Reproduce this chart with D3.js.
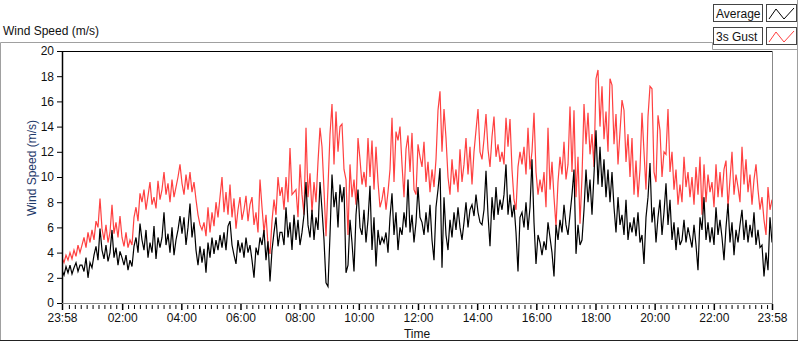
<!DOCTYPE html>
<html><head><meta charset="utf-8">
<script src="https://cdn.jsdelivr.net/npm/d3@7/dist/d3.min.js"></script>
<style>
html,body{margin:0;padding:0;background:#fff;}
svg{display:block;font-family:"Liberation Sans",Arial,sans-serif;}
</style></head><body>
<svg id="chart" width="800" height="342"></svg>
<script>
// 3s Gust (m/s), sampled roughly every 4 minutes from 23:58 to 23:58
const gust = [
3.6,3.2,3.8,3.4,4.0,3.5,4.2,3.7,4.6,4.0,
4.6,5.2,4.4,5.6,4.8,5.8,5.0,6.5,6.0,8.3,
5.9,5.0,6.2,4.8,5.6,7.8,5.5,6.4,5.2,6.9,
5.2,4.5,5.6,4.4,5.0,4.6,6.8,7.6,6.5,8.7,
8.0,9.0,7.4,8.5,9.6,7.8,8.4,7.5,9.7,8.2,
9.0,10.4,8.6,9.5,8.0,9.8,8.4,9.2,10.0,11.0,
9.5,8.6,10.2,9.0,10.4,8.8,9.6,8.2,7.0,6.2,
5.8,6.4,5.3,7.6,5.6,7.2,6.1,8.0,6.8,8.4,
10.0,7.2,8.8,7.0,9.4,6.8,8.3,5.9,7.4,8.4,
6.6,7.4,8.5,6.5,7.8,8.4,6.2,7.2,5.6,9.8,
7.6,5.6,7.0,4.6,3.9,6.5,8.2,7.0,10.0,8.5,
9.2,7.4,10.0,8.0,12.3,8.6,8.8,9.0,6.8,11.0,
8.6,7.0,13.9,8.4,10.3,7.2,9.6,8.0,11.2,13.9,
12.4,9.0,5.3,9.2,13.4,15.8,11.0,15.2,12.0,14.0,
14.2,10.6,9.8,5.4,11.0,8.4,9.8,7.8,13.1,11.4,
9.4,10.4,9.2,13.1,10.0,12.9,9.0,12.4,9.6,7.6,
8.2,9.2,7.4,8.8,10.6,14.7,9.6,13.6,12.9,14.0,
11.0,8.4,12.2,13.3,10.4,13.5,9.0,8.6,12.6,11.6,
10.8,12.8,9.6,11.2,8.8,10.6,9.2,11.4,15.3,16.8,
12.0,15.4,13.1,10.0,8.6,11.4,9.4,10.6,8.8,12.2,
9.6,11.0,13.1,10.2,12.4,9.4,12.0,13.7,15.4,12.0,
11.4,13.0,15.0,12.2,10.8,13.2,14.8,11.6,12.6,11.2,
12.0,11.0,14.7,12.4,14.6,10.6,8.2,7.4,10.8,12.0,
11.0,12.4,10.2,13.9,10.6,12.0,15.1,10.4,8.6,9.8,
8.8,10.4,7.6,13.9,9.0,11.2,8.4,6.1,9.6,11.6,
10.2,12.8,9.8,11.0,15.6,10.4,15.3,8.4,11.6,6.3,
10.0,15.8,12.6,15.1,11.8,13.4,10.8,17.8,18.5,14.0,
17.2,13.0,15.2,12.0,17.8,17.3,12.6,15.0,11.0,13.6,
16.1,15.3,11.2,13.4,10.0,13.1,8.6,11.3,8.4,10.6,
15.1,12.0,9.0,14.8,17.2,17.0,10.4,9.6,14.9,13.7,
10.0,12.0,11.8,15.4,10.4,12.0,9.0,10.6,7.8,9.4,
8.0,11.6,9.2,10.4,8.4,10.0,7.8,10.8,8.6,11.6,
7.0,11.0,8.0,10.2,8.8,9.6,7.6,11.0,8.4,10.4,
8.4,10.6,11.3,7.6,9.8,12.0,8.6,10.2,9.2,8.0,
12.4,9.4,11.4,8.8,10.2,7.8,9.8,11.0,9.0,7.4,
8.4,6.6,5.4,9.2,7.4,8.2
];
// Average (m/s), same sampling
const average = [
2.6,2.2,2.9,2.4,3.0,2.3,2.8,3.2,2.5,3.0,
3.0,2.5,3.6,2.0,3.2,2.8,3.8,4.5,3.4,5.9,
4.2,3.5,4.6,3.3,4.0,5.8,3.6,4.4,3.0,4.1,
3.6,3.0,3.8,2.6,3.4,2.9,4.5,5.2,4.0,6.3,
5.0,4.2,5.8,3.6,4.8,4.0,6.1,3.5,5.2,4.4,
5.2,7.2,4.6,5.5,4.0,6.0,3.8,5.0,5.8,6.9,
5.5,6.8,4.6,6.0,7.9,5.2,6.4,4.2,3.0,4.5,
3.2,4.3,2.4,4.8,3.6,5.2,3.9,5.0,4.2,5.4,
4.4,5.6,4.2,6.1,6.5,4.6,3.8,3.1,5.0,4.0,
4.8,3.6,5.2,4.0,4.6,3.4,2.0,4.4,3.8,5.2,
4.6,5.8,3.4,4.9,1.7,4.2,5.6,6.8,4.5,5.6,
5.6,4.6,7.6,5.2,6.4,4.2,7.0,5.0,6.6,4.6,
5.6,7.0,9.6,6.2,5.2,7.4,5.0,6.8,5.8,9.6,
7.4,5.0,1.6,1.3,5.4,10.2,7.6,8.8,6.0,9.4,
8.0,9.2,2.4,3.0,6.6,4.8,2.5,7.0,9.0,6.0,
5.4,7.4,4.8,6.6,9.3,4.2,6.8,2.9,5.8,4.6,
5.2,4.8,5.6,4.0,6.8,8.7,5.4,7.2,4.2,6.0,
5.4,7.2,6.0,9.8,5.6,7.0,4.8,6.4,9.2,6.8,
6.4,5.4,7.2,5.6,7.8,5.0,3.4,7.6,9.0,10.7,
2.8,8.4,5.4,4.2,6.6,5.2,7.2,5.8,7.6,6.0,
5.0,6.4,8.0,6.0,7.4,7.8,6.9,8.6,7.2,6.4,
6.2,7.4,10.5,7.0,4.5,8.4,6.6,9.2,7.0,8.2,
7.4,8.6,11.0,7.0,8.6,6.8,7.8,5.6,2.5,6.8,
7.2,6.0,8.0,5.8,7.6,11.4,6.4,3.1,5.4,4.8,
3.8,4.9,4.2,6.4,5.2,4.0,2.1,6.2,5.0,6.6,
5.6,7.8,6.2,5.4,7.0,8.6,10.6,3.9,6.2,4.6,
5.0,7.4,10.6,8.0,9.8,7.0,10.2,13.7,9.4,12.4,
9.2,11.4,8.4,10.6,8.0,10.4,7.6,5.6,8.4,6.2,
7.0,5.4,8.2,5.0,6.4,5.6,6.8,5.3,7.2,4.8,
5.4,3.1,6.8,8.4,11.1,6.4,7.6,4.8,6.8,8.2,
5.4,7.2,9.5,6.2,8.2,5.0,6.4,4.2,6.0,4.6,
5.0,6.6,4.8,6.0,5.2,4.4,6.2,4.6,2.6,6.8,
5.8,8.4,5.0,6.4,4.8,6.0,4.6,7.6,5.4,6.6,
5.2,3.4,6.0,7.9,4.8,6.4,3.8,5.8,4.8,6.2,
7.4,5.0,6.6,4.8,6.2,5.2,7.2,4.6,5.8,4.4,
4.6,2.1,4.0,2.6,6.8,4.8
];
const yTickValues = [0,2,4,6,8,10,12,14,16,18,20];
const xTickLabels = ["23:58","02:00","04:00","06:00","08:00","10:00","12:00","14:00","16:00","18:00","20:00","22:00","23:58"];
const seriesNames = ["Average","3s Gust"];
const seriesColors = ["#000000","#ff4040"];
const chartTitle = "Wind Speed (m/s)";
const yAxisTitle = "Wind Speed (m/s)";
const xAxisTitle = "Time";

const startTime = new Date(2024,0,1,23,58);
const endTime = new Date(2024,0,2,23,58);
const nPts = average.length;
const stepMs = (endTime - startTime) / (nPts - 1);
const timeAt = i => new Date(startTime.getTime() + i * stepMs);

const plotL = 62, plotR = 772, plotT = 51, plotB = 303;
const svg = d3.select("#chart");
const x = d3.scaleTime().domain([startTime, endTime]).range([plotL, plotR]);
const y = d3.scaleLinear().domain([0, 20]).range([plotB, plotT]);

// panel frame
svg.append("path").attr("d","M0.5,341 V42.5 H712.5 V49.5 H797.5 M797.5,0 V341")
  .attr("fill","none").attr("stroke","#a0a0a0");
svg.append("line").attr("x1",0).attr("x2",798).attr("y1",340.5).attr("y2",340.5).attr("stroke","#222");

// title
svg.append("text").attr("x",3).attr("y",35).attr("font-size",12).attr("fill","#111").text(chartTitle);

// legend
seriesNames.forEach((name,i)=>{
  const yy = 4 + i*23;
  svg.append("rect").attr("x",713.5).attr("y",yy+0.5).attr("width",49).attr("height",17)
    .attr("fill","#fff").attr("stroke","#444");
  svg.append("text").attr("x",716).attr("y",yy+13.5).attr("font-size",12).attr("fill","#111").text(name);
  svg.append("rect").attr("x",766.5).attr("y",yy+0.5).attr("width",30).attr("height",17)
    .attr("fill","#fff").attr("stroke","#444");
  svg.append("path").attr("d",`M769,${yy+15} L776,${yy+5} L784,${yy+15} L794,${yy+4}`)
    .attr("fill","none").attr("stroke",seriesColors[i]).attr("stroke-width",1);
});

// clip
svg.append("clipPath").attr("id","plotclip").append("rect")
  .attr("x",plotL).attr("y",plotT).attr("width",plotR-plotL).attr("height",plotB-plotT);

const line = d3.line().x((d,i)=>x(timeAt(i))).y(d=>y(d));
const g = svg.append("g").attr("clip-path","url(#plotclip)");
g.append("path").datum(gust).attr("d",line).attr("fill","none")
  .attr("stroke",seriesColors[1]).attr("stroke-width",1.2);
g.append("path").datum(average).attr("d",line).attr("fill","none")
  .attr("stroke",seriesColors[0]).attr("stroke-width",1.2);

// plot frame
svg.append("line").attr("x1",plotL).attr("x2",plotR).attr("y1",plotT+0.5).attr("y2",plotT+0.5).attr("stroke","#000");
svg.append("line").attr("x1",plotL+0.5).attr("x2",plotL+0.5).attr("y1",plotT).attr("y2",plotB+1).attr("stroke","#000").attr("stroke-width",1.5);
svg.append("line").attr("x1",plotR+0.5).attr("x2",plotR+0.5).attr("y1",plotT).attr("y2",plotB+1).attr("stroke","#888");
svg.append("line").attr("x1",plotL).attr("x2",plotR+1).attr("y1",plotB+0.5).attr("y2",plotB+0.5).attr("stroke","#888");

// y axis
const yAxis = svg.append("g").attr("transform",`translate(${plotL},0)`)
  .call(d3.axisLeft(y).tickValues(yTickValues).tickSize(5).tickPadding(3));
yAxis.select(".domain").remove();
yAxis.selectAll("text").attr("font-size",12).attr("font-family","Liberation Sans, Arial, sans-serif").attr("fill","#111");
yAxis.selectAll("line").attr("stroke","#000");

// x axis
const tickDates = xTickLabels.map((lab,i)=>{
  if(i===0) return startTime;
  if(i===xTickLabels.length-1) return endTime;
  const [h,m] = lab.split(":").map(Number);
  return new Date(2024,0,2,h,m);
});
const minorTicks = d3.timeMinute.every(12).range(startTime,endTime)
  .filter(d=>!tickDates.some(t=>Math.abs(t-d)<60000*3));
const xMinor = svg.append("g").attr("transform",`translate(0,${plotB+1})`)
  .call(d3.axisBottom(x).tickValues(minorTicks).tickSize(4).tickFormat(""));
xMinor.select(".domain").remove();
xMinor.selectAll("line").attr("stroke","#000").attr("transform","translate(0,1)");
const xAxis = svg.append("g").attr("transform",`translate(0,${plotB+1})`)
  .call(d3.axisBottom(x).tickValues(tickDates).tickFormat((d,i)=>xTickLabels[i]).tickSize(6).tickPadding(3));
xAxis.select(".domain").remove();
xAxis.selectAll("line").attr("stroke","#000").attr("stroke-width",1.5);
xAxis.selectAll("text").attr("font-size",12).attr("font-family","Liberation Sans, Arial, sans-serif").attr("fill","#111");

// axis titles
svg.append("text").attr("x",(plotL+plotR)/2).attr("y",338).attr("text-anchor","middle")
  .attr("font-size",12).attr("fill","#111").text(xAxisTitle);
svg.append("text").attr("transform",`translate(36,168) rotate(-90)`).attr("text-anchor","middle")
  .attr("font-size",12).attr("fill","#1f3a6a").text(yAxisTitle);
</script>
</body></html>
